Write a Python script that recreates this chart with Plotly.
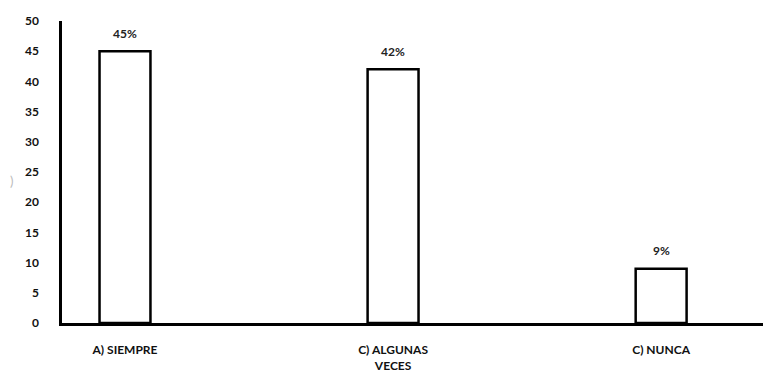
import plotly.graph_objects as go

categories = ["A) SIEMPRE", "C) ALGUNAS<br>VECES", "C) NUNCA"]
values = [45, 42, 9]
labels = ["45%", "42%", "9%"]
y_ticks = [0, 5, 10, 15, 20, 25, 30, 35, 40, 45, 50]

font_family = "Lato, 'Open Sans', sans-serif"
positions = list(range(len(categories)))

fig = go.Figure(
    go.Bar(
        x=positions,
        y=values,
        width=0.19,
        marker=dict(color="white", line=dict(color="black", width=2.5)),
        hoverinfo="skip",
    )
)

# percentage labels above each bar
for xi, v, lab in zip(positions, values, labels):
    fig.add_annotation(
        x=xi, y=v, xref="x", yref="y",
        text=f"<b>{lab}</b>",
        showarrow=False,
        yshift=18,
        font=dict(family=font_family, size=12, color="#222222"),
    )

fig.update_layout(
    width=763,
    height=376,
    margin=dict(l=62, r=0, t=21, b=53),
    paper_bgcolor="white",
    plot_bgcolor="white",
    showlegend=False,
    font=dict(family=font_family, size=12, color="#111111"),
)

fig.update_xaxes(
    range=[-0.235, 2.38],
    tickmode="array",
    tickvals=positions,
    ticktext=[f"<b>{c}</b>" for c in categories],
    showline=True,
    linecolor="black",
    linewidth=2.5,
    showgrid=False,
    zeroline=False,
    ticks="",
    ticklabelstandoff=14,
    tickfont=dict(family=font_family, size=12, color="#111111"),
)

fig.update_yaxes(
    range=[0, 50],
    tickmode="array",
    tickvals=y_ticks,
    ticktext=[f"<b>{t}</b>" for t in y_ticks],
    showline=True,
    linecolor="black",
    linewidth=2.5,
    showgrid=False,
    zeroline=False,
    ticks="",
    ticklabelstandoff=18,
    tickfont=dict(family=font_family, size=12, color="#111111"),
)

# faint remnant of the axis title at the far left
fig.add_annotation(
    x=0, xref="paper", xshift=-54,
    y=0.47, yref="paper",
    text=")",
    showarrow=False,
    font=dict(family=font_family, size=13, color="#bbbbbb"),
)

fig.write_html("out.html")
